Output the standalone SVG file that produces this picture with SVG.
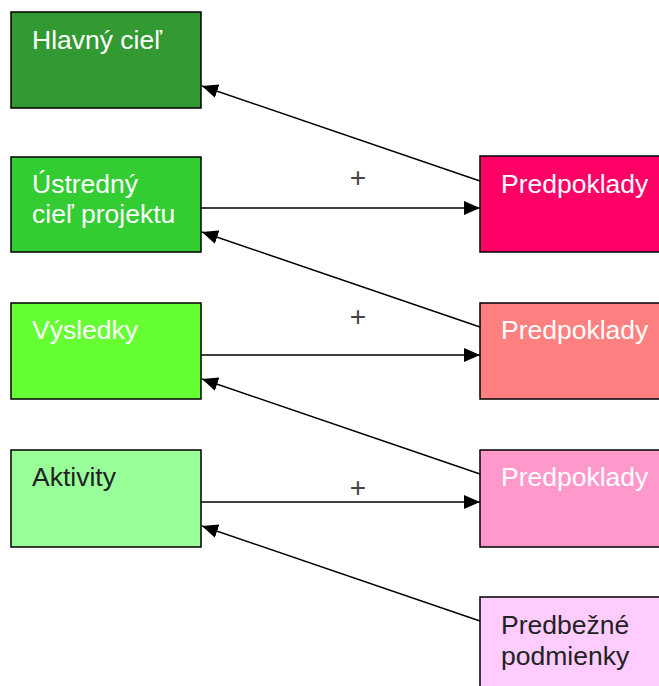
<svg xmlns="http://www.w3.org/2000/svg" width="659" height="686" viewBox="0 0 659 686">
  <style>
    .box { stroke: #000; stroke-width: 1.5; }
    .lbl { font-family: "Liberation Sans", Arial, sans-serif; font-size: 26.5px; }
    .w { fill: #ffffff; }
    .d { fill: #222222; }
    .plus { font-family: "Liberation Sans", Arial, sans-serif; font-size: 28px; font-weight: 300; fill: #444; text-anchor: middle; }
    .conn { stroke: #000; stroke-width: 1.5; fill: none; marker-end: url(#arrow); }
  </style>
  <defs>
    <marker id="arrow" viewBox="0 0 16 14" refX="16" refY="7" markerWidth="16" markerHeight="14" markerUnits="userSpaceOnUse" orient="auto">
      <path d="M0,0 L16,7 L0,14 z" fill="#000"/>
    </marker>
  </defs>
  <rect width="659" height="686" fill="#fff"/>

  <g id="hlavny-ciel">
    <rect class="box" x="11" y="12" width="190" height="96" fill="#339933"/>
    <text class="lbl w" x="32" y="49">Hlavný cieľ</text>
  </g>
  <g id="ustredny-ciel">
    <rect class="box" x="11" y="157" width="190" height="95" fill="#33cc33"/>
    <text class="lbl w" x="32" y="193">Ústredný</text>
    <text class="lbl w" x="32" y="223">cieľ projektu</text>
  </g>
  <g id="vysledky">
    <rect class="box" x="11" y="303" width="190" height="96" fill="#66ff33"/>
    <text class="lbl w" x="32" y="339">Výsledky</text>
  </g>
  <g id="aktivity">
    <rect class="box" x="11" y="450" width="190" height="97" fill="#99ff99"/>
    <text class="lbl d" x="32" y="486">Aktivity</text>
  </g>

  <g id="predpoklady-1">
    <rect class="box" x="480" y="156" width="185" height="96" fill="#ff0066"/>
    <text class="lbl w" x="501" y="193">Predpoklady</text>
  </g>
  <g id="predpoklady-2">
    <rect class="box" x="480" y="303" width="185" height="96" fill="#ff8080"/>
    <text class="lbl w" x="501" y="339">Predpoklady</text>
  </g>
  <g id="predpoklady-3">
    <rect class="box" x="480" y="450" width="185" height="97" fill="#ff99cc"/>
    <text class="lbl w" x="501" y="486">Predpoklady</text>
  </g>
  <g id="predbezne-podmienky">
    <rect class="box" x="480" y="597" width="185" height="100" fill="#ffccff"/>
    <text class="lbl d" x="501" y="634">Predbežné</text>
    <text class="lbl d" x="501" y="665">podmienky</text>
  </g>

  <g id="connectors">
    <line class="conn" x1="480" y1="181" x2="202" y2="86"/>
    <line class="conn" x1="201" y1="208" x2="480" y2="208"/>
    <line class="conn" x1="480" y1="327" x2="202" y2="232"/>
    <line class="conn" x1="201" y1="355" x2="480" y2="355"/>
    <line class="conn" x1="480" y1="474" x2="202" y2="379"/>
    <line class="conn" x1="201" y1="502" x2="480" y2="502"/>
    <line class="conn" x1="480" y1="621" x2="202" y2="526"/>
    <text class="plus" x="358" y="187">+</text>
    <text class="plus" x="358" y="326">+</text>
    <text class="plus" x="358" y="497">+</text>
  </g>
</svg>
